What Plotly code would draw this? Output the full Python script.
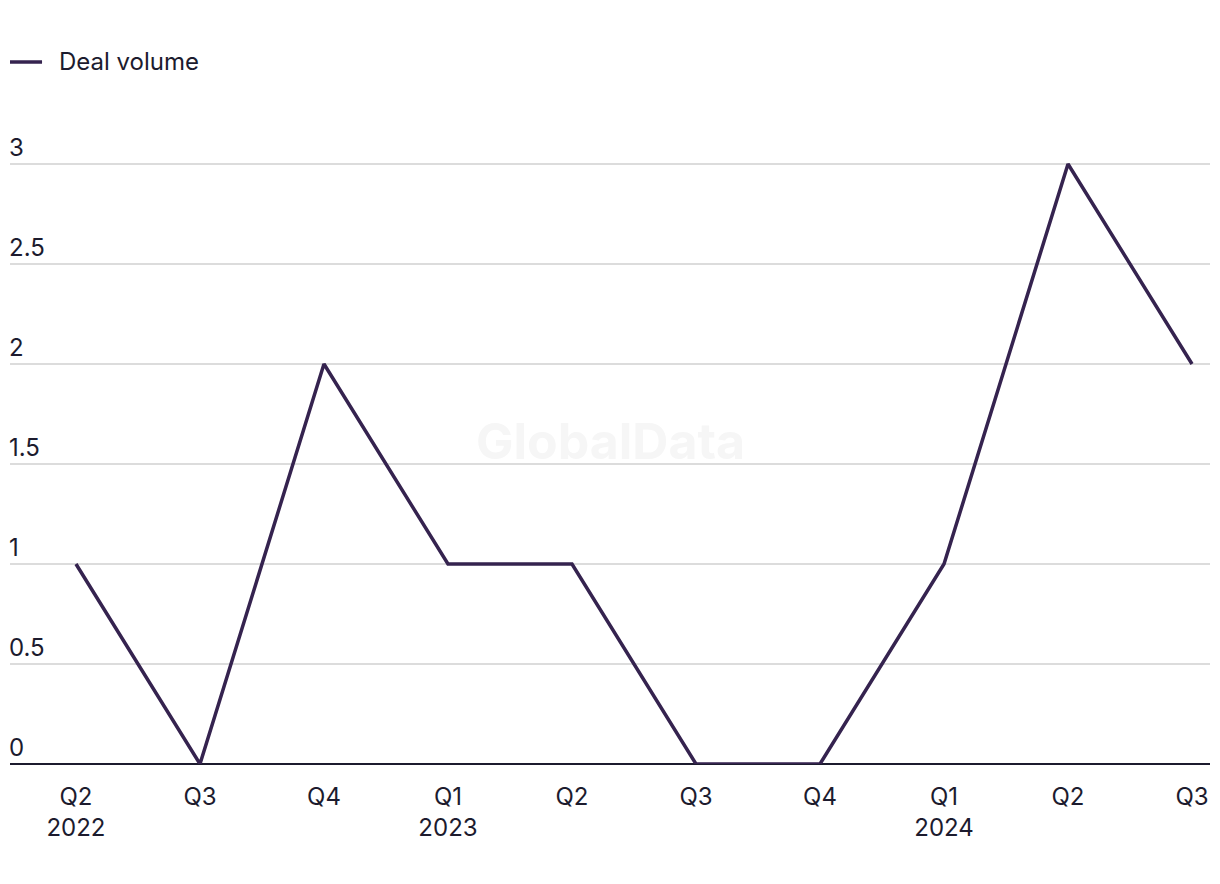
import plotly.graph_objects as go

# ── Data ─────────────────────────────────────────────────────────────
quarters = ["Q2<br>2022", "Q3", "Q4", "Q1<br>2023", "Q2",
            "Q3", "Q4", "Q1<br>2024", "Q2", "Q3"]
deal_volume = [1, 0, 2, 1, 1, 0, 0, 1, 3, 2]
y_ticks = [0, 0.5, 1, 1.5, 2, 2.5, 3]
y_ticktext = ["0", "0.5", "1", "1.5", "2", "2.5", "3"]
series_name = "Deal volume"

# ── Palette ──────────────────────────────────────────────────────────
LINE = "#35234f"
TEXT = "#1c1b2e"
GRID = "#dcdcdc"
FONT = "Inter"

x_idx = list(range(len(quarters)))

fig = go.Figure()
fig.add_trace(go.Scatter(
    x=x_idx,
    y=deal_volume,
    mode="lines",
    name=series_name,
    line=dict(color=LINE, width=3.5),
    cliponaxis=False,
    showlegend=False,
))

# ── Legend drawn by hand (line swatch + label) ───────────────────────
fig.add_shape(
    type="line", xref="paper", yref="paper",
    x0=0.0, x1=0.0267, y0=1.08, y1=1.08,
    line=dict(color=LINE, width=3.5),
)
fig.add_annotation(
    x=0.0395, y=1.08, xref="paper", yref="paper",
    text=series_name, showarrow=False,
    xanchor="left", yanchor="middle",
    font=dict(size=24, color=TEXT, family=FONT),
)

# ── Watermark ────────────────────────────────────────────────────────
fig.add_annotation(
    x=0.5, y=0.4969, xref="paper", yref="paper",
    text="<b>GlobalData</b>", showarrow=False,
    font=dict(size=50, color="#f6f6f6", family=FONT),
)

# page body has an 8px margin, so the figure is 16px smaller than the window
fig.update_layout(
    width=1204, height=868,
    plot_bgcolor="white", paper_bgcolor="white",
    font=dict(family=FONT, color=TEXT, size=24),
    margin=dict(l=2, r=2, t=106, b=112, autoexpand=False),
    xaxis=dict(
        tickvals=x_idx, ticktext=quarters,
        range=[-0.532, 9.145],
        showgrid=False, zeroline=False, showline=False,
        automargin=False,
        ticks="", ticklabelstandoff=16,
        tickfont=dict(size=24, color=TEXT),
    ),
    yaxis=dict(
        tickvals=y_ticks, ticktext=y_ticktext,
        range=[0, 3.25],
        showgrid=True, gridcolor=GRID, gridwidth=1.5,
        zeroline=True, zerolinecolor=TEXT, zerolinewidth=2,
        automargin=False,
        ticklabelposition="inside top", ticklabelstandoff=-4,
        ticks="", tickfont=dict(size=24, color=TEXT),
    ),
)

fig.write_html("out.html")
